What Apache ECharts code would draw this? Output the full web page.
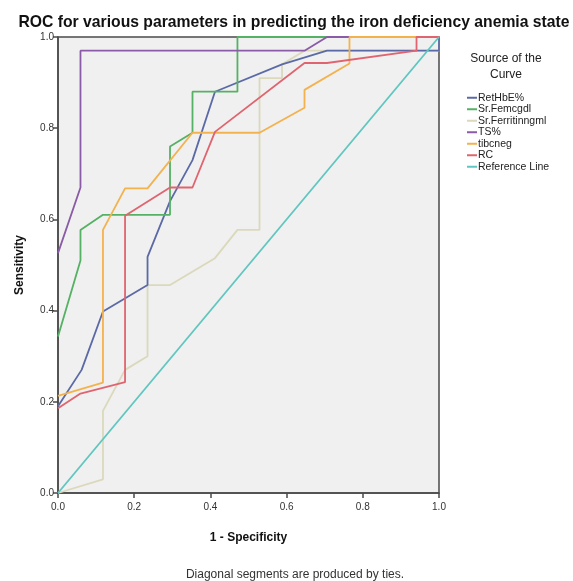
<!DOCTYPE html>
<html lang="en">
<head>
    <meta charset="UTF-8">
    <title>ROC curves</title>
    <script src="https://cdn.jsdelivr.net/npm/echarts@6/dist/echarts.min.js"></script>
    <style>
        body { margin: 0; background: #fff; }
    </style>
</head>
<body>
<div id="main" style="width: 573px;height: 581px"></div>
<script>
    // points are [1 - specificity, sensitivity]
    var seriesNames = ['RetHbE%', 'Sr.Femcgdl', 'Sr.Ferritinngml', 'TS%', 'tibcneg', 'RC', 'Reference Line'];
    var seriesColors = ['#5b6aa6', '#55b163', '#dbd8bc', '#8a5ba6', '#f3b24e', '#e0646f', '#5fc6c0'];

    var retHbE = [[0, 0.19], [0.062, 0.27], [0.118, 0.398], [0.235, 0.456], [0.235, 0.518], [0.294, 0.64],
        [0.353, 0.73], [0.412, 0.88], [0.588, 0.94], [0.706, 0.97], [1, 0.97], [1, 1]];
    var srFe = [[0, 0.343], [0.059, 0.51], [0.059, 0.577], [0.118, 0.61], [0.294, 0.61], [0.294, 0.76],
        [0.353, 0.79], [0.353, 0.88], [0.471, 0.88], [0.471, 1], [1, 1]];
    var srFerritin = [[0, 0], [0.118, 0.03], [0.118, 0.18], [0.176, 0.27], [0.235, 0.30], [0.235, 0.456],
        [0.294, 0.456], [0.412, 0.515], [0.471, 0.577], [0.529, 0.577], [0.529, 0.91], [0.588, 0.91],
        [0.588, 0.94], [0.647, 0.97], [1, 0.97], [1, 1]];
    var ts = [[0, 0.526], [0.059, 0.67], [0.059, 0.97], [0.647, 0.97], [0.706, 1], [1, 1]];
    var tibc = [[0, 0.213], [0.118, 0.242], [0.118, 0.577], [0.176, 0.668], [0.235, 0.668], [0.353, 0.79],
        [0.529, 0.79], [0.647, 0.845], [0.647, 0.884], [0.765, 0.942], [0.765, 1], [1, 1]];
    var rc = [[0, 0.186], [0.059, 0.218], [0.176, 0.243], [0.176, 0.608], [0.294, 0.67], [0.353, 0.67],
        [0.412, 0.792], [0.647, 0.943], [0.706, 0.943], [0.941, 0.97], [0.941, 1], [1, 1]];
    var refLine = [[0, 0], [1, 1]];

    var allData = [retHbE, srFe, srFerritin, ts, tibc, rc, refLine];

    var titleText = 'ROC for various parameters in predicting the iron deficiency anemia state';
    var footText = 'Diagonal segments are produced by ties.';

    // squeeze a text to a width, the original uses a narrow font we don't have
    function squeeze(text, font, width) {
        var ctx = document.createElement('canvas').getContext('2d');
        ctx.font = font;
        return Math.min(1, width / ctx.measureText(text).width);
    }
    var titleScale = squeeze(titleText, 'bold 17px "Liberation Sans"', 551);
    var footScale = squeeze(footText, '12px "Liberation Sans"', 234);

    var myChart = echarts.init(document.getElementById('main'));

    var series = [];
    for (var i = 0; i < seriesNames.length; i++) {
        series.push({
            name: seriesNames[i],
            type: 'line',
            data: allData[i],
            showSymbol: false,
            symbol: 'none',
            animation: false,
            lineStyle: { color: seriesColors[i], width: 1.8 },
            itemStyle: { color: seriesColors[i] },
            z: i == 2 ? 1 : 2
        });
    }

    var axisCommon = {
        type: 'value',
        min: 0,
        max: 1,
        interval: 0.2,
        nameLocation: 'middle',
        nameTextStyle: { fontFamily: 'Liberation Sans', fontWeight: 'bold', fontSize: 12, color: '#111' },
        axisLine: { show: true, lineStyle: { color: '#4a4a4a', width: 1.5 } },
        axisTick: { show: true, length: 5, lineStyle: { color: '#4a4a4a', width: 1.5 } },
        axisLabel: {
            fontFamily: 'Liberation Sans', fontSize: 10, color: '#333',
            formatter: function (v) { return v.toFixed(1); }
        },
        splitLine: { show: false }
    };

    option = {
        backgroundColor: '#fff',
        animation: false,
        title: {
            text: 'Source of the\nCurve',
            left: 501,
            top: 46,
            textAlign: 'center',
            textStyle: { fontFamily: 'Liberation Sans', fontWeight: 'normal', fontSize: 12, lineHeight: 16, color: '#222' }
        },
        legend: {
            data: seriesNames,
            orient: 'vertical',
            left: 462,
            top: 87,
            icon: 'rect',
            itemWidth: 10,
            itemHeight: 2,
            itemGap: 0,
            textStyle: { fontFamily: 'Liberation Sans', fontSize: 10.5, lineHeight: 11.5, color: '#222', padding: [0, 0, 0, -4] }
        },
        grid: {
            left: 58,
            right: 134,
            top: 37,
            bottom: 88,
            show: true,
            backgroundColor: '#f0f0f0',
            borderColor: '#4a4a4a',
            borderWidth: 1.5
        },
        xAxis: Object.assign({}, axisCommon, {
            name: '1 - Specificity',
            nameGap: 39,
            axisLabel: Object.assign({}, axisCommon.axisLabel, { margin: 9 })
        }),
        yAxis: Object.assign({}, axisCommon, {
            name: 'Sensitivity',
            nameGap: 32,
            axisLabel: Object.assign({}, axisCommon.axisLabel, { margin: 4 })
        }),
        graphic: [{
            type: 'text',
            x: 294,
            y: 22,
            scaleX: titleScale,
            style: {
                text: titleText,
                fontFamily: 'Liberation Sans',
                fontWeight: 'bold',
                fontSize: 17,
                fill: '#111',
                align: 'center',
                verticalAlign: 'middle'
            }
        }, {
            type: 'text',
            x: 295,
            y: 575,
            scaleX: footScale,
            style: {
                text: footText,
                fontFamily: 'Liberation Sans',
                fontSize: 12,
                fill: '#333',
                align: 'center',
                verticalAlign: 'middle'
            }
        }],
        series: series
    };

    myChart.setOption(option);
</script>
</body>
</html>
